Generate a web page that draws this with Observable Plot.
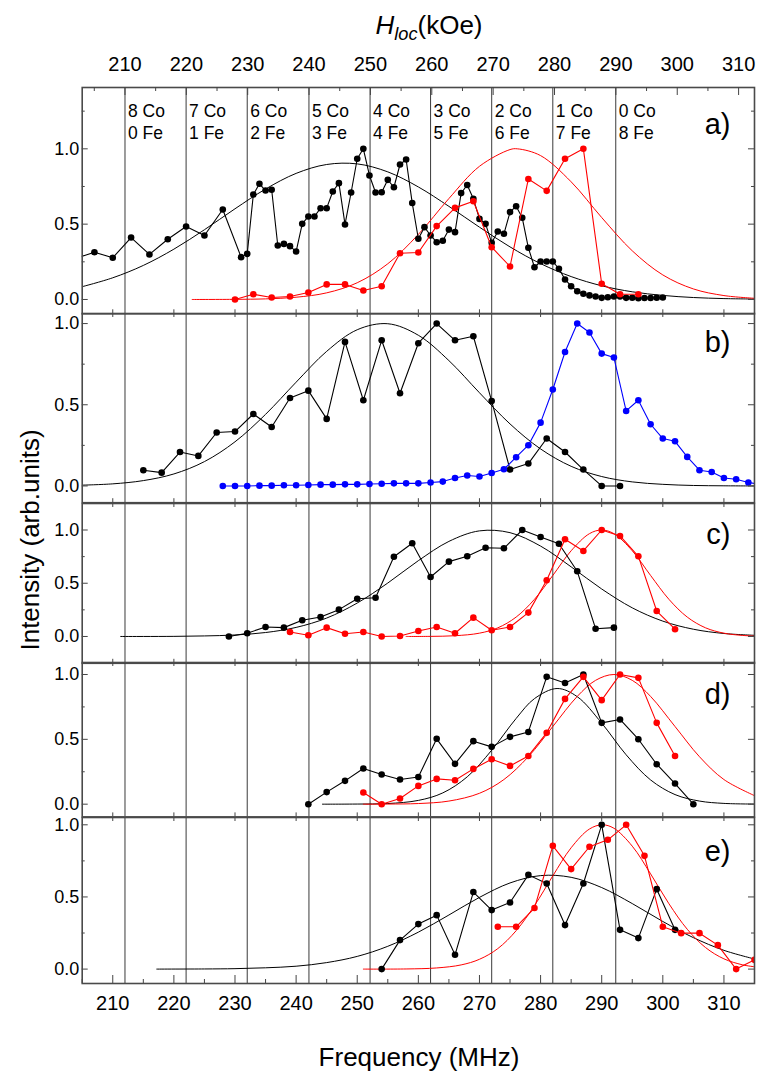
<!DOCTYPE html>
<html><head><meta charset="utf-8">
<script src="https://cdn.jsdelivr.net/npm/d3@7"></script>
<script src="https://cdn.jsdelivr.net/npm/@observablehq/plot@0.6"></script>
<style>
body{margin:0;background:#fff;}
#root{position:relative;width:765px;height:1077px;font-family:"Liberation Sans",Arial,Helvetica,sans-serif;color:#000;}
#root svg{position:absolute;left:0;}
.lbl{position:absolute;white-space:nowrap;line-height:1;}
</style></head><body><div id="root"></div>
<script>
// ---------- axis / label data ----------
const freqTicks = [210, 220, 230, 240, 250, 260, 270, 280, 290, 300, 310];
const freqMinor = [205, 215, 225, 235, 245, 255, 265, 275, 285, 295, 305, 315];
const hlocTicks = [210, 220, 230, 240, 250, 260, 270, 280, 290, 300, 310];
const hlocMinor = [205, 215, 225, 235, 245, 255, 265, 275, 285, 295, 305];
const configLines = [212, 222, 232, 242.1, 252.1, 262, 272, 282, 292.3];
const coLabels = ["8 Co", "7 Co", "6 Co", "5 Co", "4 Co", "3 Co", "2 Co", "1 Co", "0 Co"];
const feLabels = ["0 Fe", "1 Fe", "2 Fe", "3 Fe", "4 Fe", "5 Fe", "6 Fe", "7 Fe", "8 Fe"];
const panelLabels = ["a)", "b)", "c)", "d)", "e)"];

// ---------- panel a ----------
const aBlackF = [204,207,210,213,216,219,222,225,228,231,232,233,234,235,236,237,238,239,240,241,242,243,244,245,246,247,248,249,250,251,252,253,254,255,256,257,258,259,260,261,262,263,264,265,266,267,268,269,270,271,272,273,274,275,276,277,278,279,280,281,282,283,284,285,286,287,288,289,290,291,292,293,294,295,296,297,298,299,300];
const aBlackV = [0.273,0.314,0.277,0.411,0.299,0.40,0.484,0.425,0.597,0.281,0.303,0.697,0.768,0.723,0.728,0.358,0.369,0.354,0.318,0.502,0.551,0.551,0.606,0.606,0.717,0.772,0.498,0.71,0.934,1.0,0.823,0.71,0.712,0.794,0.745,0.896,0.929,0.64,0.403,0.48,0.425,0.38,0.39,0.464,0.447,0.706,0.76,0.668,0.535,0.502,0.376,0.451,0.436,0.58,0.619,0.542,0.343,0.214,0.252,0.252,0.252,0.204,0.133,0.088,0.055,0.038,0.027,0.02,0.011,0.015,0.02,0.02,0.011,0.012,0.008,0.01,0.01,0.012,0.013];
const aRedF = [230,233,236,239,242,245,248,251,254,257,260,263,266,269,272,275,278,281,284,287,290,293,296];
const aRedV = [0.0,0.035,0.013,0.02,0.046,0.1,0.1,0.06,0.088,0.307,0.312,0.487,0.608,0.652,0.347,0.219,0.80,0.721,0.934,1.0,0.104,0.035,0.035];
const aBlackFitF = [205,210,215,220,225,230,235,240,245,250,255,260,265,270,275,280,285,290,295,300,305,310,315];
const aBlackFitV = [0.085,0.144,0.226,0.334,0.463,0.602,0.733,0.837,0.896,0.900,0.847,0.747,0.618,0.480,0.349,0.238,0.152,0.091,0.051,0.027,0.013,0.006,0.003];
const aRedFitF = [223,230,235,240,245,250,255,260,265,270,275,276.2,280,285,290,295,300,305,310,315];
const aRedFitV = [0.0,0.001,0.004,0.015,0.044,0.111,0.237,0.432,0.670,0.884,0.995,1.0,0.955,0.781,0.544,0.323,0.163,0.070,0.026,0.008];

// ---------- panel b ----------
const bBlackF = [215,218,221,224,227,230,233,236,239,242,245,248,251,254,257,260,263,266,269,272,275,278,281,284,287,290,293];
const bBlackV = [0.097,0.082,0.209,0.185,0.329,0.335,0.443,0.363,0.542,0.587,0.413,0.887,0.528,0.897,0.571,0.879,1.0,0.897,0.922,0.523,0.101,0.138,0.292,0.209,0.101,0.0,0.0];
const bBlueF = [228,230,232,234,236,238,240,242,244,246,248,250,252,254,256,258,260,262,264,266,268,270,272,274,276,278,280,282,284,286,288,290,292,294,296,298,300,302,304,306,308,310,312,314,316];
const bBlueV = [0,0,0,0.002,0.002,0.004,0.004,0.006,0.008,0.008,0.01,0.01,0.012,0.014,0.016,0.016,0.016,0.021,0.027,0.049,0.064,0.058,0.08,0.103,0.177,0.251,0.39,0.594,0.825,1.0,0.945,0.815,0.791,0.462,0.528,0.38,0.292,0.275,0.179,0.097,0.086,0.049,0.041,0.021,0.01];
const bBlackFitF = [205,210,215,220,225,230,235,240,245,250,255,260,265,270,275,280,285,290,295,300,305,310,315];
const bBlackFitV = [0.005,0.013,0.033,0.074,0.150,0.272,0.441,0.639,0.829,0.962,0.999,0.928,0.772,0.574,0.382,0.228,0.121,0.058,0.025,0.010,0.003,0.001,0.0];

// ---------- panel c ----------
const cBlackF = [229,232,235,238,241,244,247,250,253,256,259,262,265,268,271,274,277,280,283,286,289,292];
const cBlackV = [0.0,0.03,0.089,0.083,0.152,0.183,0.252,0.355,0.364,0.749,0.875,0.559,0.703,0.753,0.834,0.828,1.0,0.934,0.871,0.612,0.073,0.083];
const cRedF = [239,242,245,248,251,254,257,260,263,266,269,272,275,278,281,284,287,290,293,296,299,302];
const cRedV = [0.042,0.011,0.083,0.026,0.042,0.0,0.005,0.052,0.089,0.03,0.177,0.058,0.089,0.224,0.528,0.913,0.803,1.0,0.944,0.753,0.239,0.068];
const cBlackFitF = [211.3,215,220,225,230,235,240,245,250,255,260,265,270,275,280,285,290,295,300,305,310,315];
const cBlackFitV = [0,0,0.001,0.005,0.014,0.037,0.085,0.173,0.314,0.502,0.712,0.893,0.992,0.975,0.849,0.654,0.446,0.269,0.144,0.068,0.028,0.011];
const cRedFitF = [258,262,266,270,273,276,279,282,285,288,290,292,295,298,301,304,307,310,313,315];
const cRedFitV = [0,0.001,0.007,0.031,0.081,0.182,0.349,0.573,0.805,0.966,1.0,0.966,0.805,0.573,0.349,0.182,0.081,0.031,0.010,0.004];

// ---------- panel d ----------
const dBlackF = [242,245,248,251,254,257,260,263,266,269,272,275,278,281,284,287,290,293,296,299,302,305];
const dBlackV = [0.0,0.093,0.18,0.275,0.229,0.19,0.21,0.504,0.311,0.486,0.442,0.519,0.557,0.982,0.935,1.0,0.627,0.653,0.501,0.308,0.159,0.0];
const dRedF = [251,254,257,260,263,266,269,272,275,278,281,284,287,290,293,296,299,302];
const dRedV = [0.09,0.0,0.044,0.141,0.195,0.185,0.272,0.347,0.295,0.372,0.55,0.812,0.982,0.802,1.0,0.974,0.627,0.372];
const dBlackFitF = [244.3,250,255,260,264,268,272,276,279,282.7,286,290,294,298,302,306,310,315];
const dBlackFitV = [0,0.001,0.005,0.029,0.087,0.211,0.416,0.661,0.814,0.892,0.829,0.625,0.381,0.187,0.074,0.024,0.006,0.001];
const dRedFitF = [251,255,260,265,270,274,278,282,286,289,292,295,298,302,306,310,315];
const dRedFitV = [0,0.001,0.005,0.024,0.084,0.19,0.366,0.599,0.831,0.955,1.0,0.955,0.831,0.599,0.366,0.19,0.066];

// ---------- panel e ----------
const eBlackF = [254,257,260,263,266,269,272,275,278,281,284,287,290,293,296,299,302];
const eBlackV = [0.0,0.201,0.312,0.374,0.099,0.534,0.409,0.462,0.653,0.593,0.305,0.593,1.0,0.272,0.215,0.554,0.272];
const eRedF = [273,276,279,282,285,288,291,294,297,300,303,306,309,312,315];
const eRedV = [0.293,0.293,0.423,0.854,0.693,0.848,0.896,1.0,0.785,0.293,0.249,0.249,0.166,0.0,0.064];
const eBlackFitF = [217.2,225,230,235,240,245,250,255,260,265,270,275,280,285,290,295,300,305,310,315];
const eBlackFitV = [0,0.001,0.003,0.009,0.020,0.045,0.088,0.158,0.256,0.375,0.497,0.597,0.648,0.636,0.565,0.454,0.330,0.218,0.130,0.070];
const eRedFitF = [251,258,263,267,270,273,276,279,282,285,288,290.1,292,295,298,301,304,307,310,313,315];
const eRedFitV = [0,0.001,0.008,0.029,0.068,0.142,0.266,0.44,0.646,0.841,0.971,1.0,0.976,0.852,0.66,0.453,0.276,0.149,0.071,0.030,0.016];

// ---------- build ----------
const pts = (F, V) => F.map((f, i) => ({f, v: V[i]}));
const FONT = '"Liberation Sans", Arial, Helvetica, sans-serif';
const W = 765, ML = 81.7, MR = 11;
const plotW = W - ML - MR;
const BLACK = "#000", RED = "#ff0000", BLUE = "#0000ff";

const panels = [
  {label: 0, top: 87, bottom: 313.3, dom: [-0.095, 1.407], ly: 37, top0: true,
   fits: [[aBlackFitF, aBlackFitV, BLACK], [aRedFitF, aRedFitV, RED]],
   data: [[aBlackF, aBlackV, BLACK], [aRedF, aRedV, RED]]},
  {label: 1, top: 313.3, bottom: 502.5, dom: [-0.103, 1.062], ly: 29,
   fits: [[bBlackFitF, bBlackFitV, BLACK]],
   data: [[bBlackF, bBlackV, BLACK], [bBlueF, bBlueV, BLUE]]},
  {label: 2, top: 502.5, bottom: 662.3, dom: [-0.252, 1.249], ly: 31.5,
   fits: [[cBlackFitF, cBlackFitV, BLACK], [cRedFitF, cRedFitV, RED]],
   data: [[cBlackF, cBlackV, BLACK], [cRedF, cRedV, RED]]},
  {label: 3, top: 662.3, bottom: 816.7, dom: [-0.098, 1.0925], ly: 32.7,
   fits: [[dBlackFitF, dBlackFitV, BLACK], [dRedFitF, dRedFitV, RED]],
   data: [[dBlackF, dBlackV, BLACK], [dRedF, dRedV, RED]]},
  {label: 4, top: 816.7, bottom: 982.7, dom: [-0.0998, 1.0506], ly: 33.8, last: true,
   fits: [[eBlackFitF, eBlackFitV, BLACK], [eRedFitF, eRedFitV, RED]],
   data: [[eBlackF, eBlackV, BLACK], [eRedF, eRedV, RED]]}
];

const root = document.getElementById("root");
const svgStyle = {background: "transparent", overflow: "visible", fontFamily: FONT, fontSize: "18px", color: "#000"};

for (const p of panels) {
  const plotH = p.bottom - p.top;
  const extra = p.last ? 50 : 0;
  const yMaj = [0, 0.5, 1];
  const yMin = [0.25, 0.75].concat(p.dom[1] > 1.25 ? [1.25] : []);
  const marks = [
    Plot.ruleX(configLines, {x: d => d, stroke: "#3a3a3a", strokeWidth: 1})
  ];
  for (const [F, V, c] of p.fits) {
    marks.push(Plot.line(pts(F, V), {x: "f", y: "v", stroke: c, strokeWidth: 1, curve: "catmull-rom", clip: true}));
  }
  for (const [F, V, c] of p.data) {
    marks.push(Plot.line(pts(F, V), {x: "f", y: "v", stroke: c, strokeWidth: 1.1, clip: true}));
    marks.push(Plot.dot(pts(F, V), {x: "f", y: "v", fill: c, r: 3.3, clip: true}));
  }
  // inward ticks
  marks.push(
    Plot.tickY(yMaj, {y: d => d, insetRight: plotW - 6, stroke: "#444"}),
    Plot.tickY(yMin, {y: d => d, insetRight: plotW - 3, stroke: "#444"}),
    Plot.tickY(yMaj, {y: d => d, insetLeft: plotW - 6, stroke: "#444"}),
    Plot.tickY(yMin, {y: d => d, insetLeft: plotW - 3, stroke: "#444"})
  );
  if (!p.top0) marks.push(Plot.tickX(freqTicks, {x: d => d, insetBottom: plotH - 4, stroke: "#444"}));
  if (p.last) {
    marks.push(
      Plot.tickX(freqTicks, {x: d => d, insetTop: plotH - 8, stroke: "#444"}),
      Plot.tickX(freqMinor, {x: d => d, insetTop: plotH - 4, stroke: "#444"}),
      Plot.axisX(freqTicks, {anchor: "bottom", tickSize: 0, tickPadding: 12, fontSize: 20, label: null})
    );
  } else {
    marks.push(Plot.tickX(freqTicks, {x: d => d, insetTop: plotH - 4, stroke: "#444"}));
  }
  if (p.top0) {
    marks.push(Plot.text(d3.range(coLabels.length), {
      x: i => configLines[i], text: i => coLabels[i] + "\n" + feLabels[i],
      frameAnchor: "top", dy: 13, dx: 3, textAnchor: "start", lineAnchor: "top",
      lineHeight: 1.3, fontSize: 17.5
    }));
  }
  marks.push(
    Plot.text([panelLabels[p.label]], {text: d => d, frameAnchor: "top-right", dx: -24, dy: p.ly,
      textAnchor: "end", lineAnchor: "middle", fontSize: 29}),
    Plot.axisY(yMaj, {anchor: "left", tickSize: 0, tickPadding: 3, tickFormat: d => d.toFixed(1), fontSize: 18, label: null}),
    Plot.frame({stroke: "#4a4a4a", strokeWidth: 1.6})
  );
  const svg = Plot.plot({
    width: W, height: plotH + extra,
    marginLeft: ML, marginRight: MR, marginTop: 0, marginBottom: extra,
    x: {domain: [205, 315], axis: null, label: null},
    y: {domain: p.dom, axis: null, label: null},
    style: svgStyle,
    marks
  });
  svg.style.position = "absolute";
  svg.style.top = p.top + "px";
  root.appendChild(svg);
}

// top H_loc axis
const topAxis = Plot.plot({
  width: W, height: 100, marginLeft: ML, marginRight: MR, marginTop: 87, marginBottom: 0,
  x: {domain: [203.03, 312.59], axis: null, label: null},
  style: svgStyle,
  marks: [
    Plot.axisX(hlocTicks, {anchor: "top", tickSize: 0, tickPadding: 17, fontSize: 20, label: null}),
    Plot.tickX(hlocTicks, {x: d => d, insetBottom: 13 - 8, stroke: "#444"}),
    Plot.tickX(hlocMinor, {x: d => d, insetBottom: 13 - 4, stroke: "#444"})
  ]
});
topAxis.style.position = "absolute";
topAxis.style.top = "0px";
root.appendChild(topAxis);

// titles
const t1 = document.createElement("div");
t1.className = "lbl";
t1.style.cssText = "left:429px;top:12px;transform:translateX(-50%);font-size:26px;";
t1.innerHTML = '<i>H</i><sub style="font-size:70%;"><i>loc</i></sub>(kOe)';
root.appendChild(t1);

const t2 = document.createElement("div");
t2.className = "lbl";
t2.style.cssText = "left:419px;top:1044px;transform:translateX(-50%);font-size:26px;";
t2.textContent = "Frequency (MHz)";
root.appendChild(t2);

const t3 = document.createElement("div");
t3.className = "lbl";
t3.style.cssText = "left:30px;top:540px;transform:translate(-50%,-50%) rotate(-90deg);font-size:26px;";
t3.textContent = "Intensity (arb.units)";
root.appendChild(t3);
</script></body></html>
